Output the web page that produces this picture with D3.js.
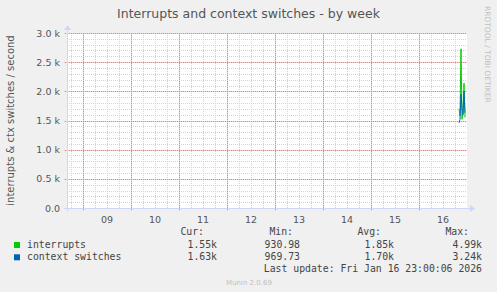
<!DOCTYPE html>
<html>
<head>
<meta charset="utf-8">
<script src="https://cdn.jsdelivr.net/npm/d3@7"></script>
<style>
  html, body { margin: 0; padding: 0; background: #f0f0f0; }
  svg { display: block; }
  text { font-family: "DejaVu Sans", sans-serif; }
  .mono { font-family: "DejaVu Sans Mono", monospace; }
  rect.grid { shape-rendering: crispEdges; }
</style>
</head>
<body>
<div id="chart"></div>
<script>
// time axis (UTC), one label per day
const dayLabels = ["09", "10", "11", "12", "13", "14", "15", "16"];
const yTickValues = [0, 500, 1000, 1500, 2000, 2500, 3000];

// samples only exist for the last few hours of Jan 16
const sampleHours = [20, 20.5, 21, 21.5, 22, 22.5, 23];
const interrupts = [1700, 1580, 2730, 1520, 1650, 2140, 1550];
const contextSwitches = [1460, 1520, 1950, 1700, 1600, 2000, 1630];

const seriesNames = ["interrupts", "context switches"];
const seriesColors = ["#00cc00", "#0066b3"];
const statsCur = ["1.55k", "1.63k"];
const statsMin = ["930.98", "969.73"];
const statsAvg = ["1.85k", "1.70k"];
const statsMax = ["4.99k", "3.24k"];

const width = 497, height = 292;
const margin = { top: 33, right: 30, bottom: 84, left: 67 };
const innerW = width - margin.left - margin.right;   // 400
const innerH = height - margin.top - margin.bottom;  // 175

const svg = d3.select("#chart").append("svg")
  .attr("width", width)
  .attr("height", height);

// dotted grid patterns (1px dot, 1px gap)
const defs = svg.append("defs");
function dotPattern(id, color, gapColor, horizontal) {
  const p = defs.append("pattern").attr("id", id)
    .attr("patternUnits", "userSpaceOnUse")
    .attr("width", horizontal ? 2 : 1).attr("height", horizontal ? 1 : 2);
  if (gapColor) {
    p.append("rect").attr("width", horizontal ? 2 : 1).attr("height", horizontal ? 1 : 2).attr("fill", gapColor);
  }
  p.append("rect").attr("width", 1).attr("height", 1).attr("fill", color);
}
dotPattern("minorH", "#d2d2d2", null, true);
dotPattern("minorV", "#d2d2d2", null, false);
dotPattern("majorH", "#ee8080", "#f8cccc", true);
dotPattern("majorV", "#ee8080", "#f8cccc", false);

svg.append("rect").attr("width", width).attr("height", height).attr("fill", "#f0f0f0");

const xScale = d3.scaleUtc()
  .domain([new Date(Date.UTC(2026, 0, 8, 16)), new Date(Date.UTC(2026, 0, 17, 0))])
  .range([0, innerW]);
const yScale = d3.scaleLinear().domain([0, 3000]).range([innerH, 0]);

const chart = svg.append("g").attr("transform", `translate(${margin.left},${margin.top})`);

chart.append("rect").attr("width", innerW).attr("height", innerH).attr("fill", "#ffffff");

// minor grid: every 6 hours, every 100
const minorX = d3.utcHour.every(6).range(...xScale.domain()).filter(d => d.getUTCHours() !== 0);
chart.append("g").selectAll("rect").data(minorX).join("rect")
  .attr("class", "grid")
  .attr("x", d => Math.round(xScale(d))).attr("y", 0)
  .attr("width", 1).attr("height", innerH)
  .attr("fill", "url(#minorV)");

const minorY = d3.range(100, 3001, 100).filter(v => v % 500 !== 0);
chart.append("g").selectAll("rect").data(minorY).join("rect")
  .attr("class", "grid")
  .attr("x", 0).attr("y", d => Math.round(yScale(d)))
  .attr("width", innerW).attr("height", 1)
  .attr("fill", "url(#minorH)");

// major grid: days, every 500
const days = d3.utcDay.range(...xScale.domain());
chart.append("g").selectAll("rect").data(days).join("rect")
  .attr("class", "grid")
  .attr("x", d => Math.round(xScale(d))).attr("y", 0)
  .attr("width", 1).attr("height", innerH + 3)
  .attr("fill", "url(#majorV)");

chart.append("g").selectAll("rect").data(yTickValues.filter(v => v > 0)).join("rect")
  .attr("class", "grid")
  .attr("x", -3).attr("y", d => Math.round(yScale(d)))
  .attr("width", innerW + 3).attr("height", 1)
  .attr("fill", "url(#majorH)");

// axes lines with arrows
const axisColor = "#cfd6f8";
chart.append("rect").attr("class", "grid")
  .attr("x", -3).attr("y", innerH).attr("width", innerW + 6).attr("height", 1)
  .attr("fill", axisColor);
chart.append("path")
  .attr("d", `M${innerW + 3},${innerH - 3}L${innerW + 8},${innerH + 0.5}L${innerW + 3},${innerH + 4}Z`)
  .attr("fill", axisColor);
chart.append("rect").attr("class", "grid")
  .attr("x", 0).attr("y", -3).attr("width", 1).attr("height", innerH + 6)
  .attr("fill", axisColor);
chart.append("path")
  .attr("d", `M-3,-3L0.5,-8L4,-3Z`)
  .attr("fill", axisColor);

// y tick labels
chart.selectAll(".ytick").data(yTickValues).join("text")
  .attr("class", "ytick")
  .attr("x", -7).attr("y", d => yScale(d) + 3.5)
  .attr("text-anchor", "end")
  .attr("font-size", "9.5px").attr("fill", "#555")
  .text(d => d === 0 ? "0.0" : d3.format(".1f")(d / 1000) + " k");

// x tick labels at noon of each day
chart.selectAll(".xtick").data(dayLabels).join("text")
  .attr("class", "xtick")
  .attr("x", d => xScale(new Date(Date.UTC(2026, 0, +d, 12))))
  .attr("y", innerH + 15)
  .attr("text-anchor", "middle")
  .attr("font-size", "9.5px").attr("fill", "#555")
  .text(d => d);

// series lines
const line = d3.line()
  .x(d => xScale(new Date(Date.UTC(2026, 0, 16) + d[0] * 3600e3)))
  .y(d => yScale(d[1]));
[interrupts, contextSwitches].forEach((vals, i) => {
  chart.append("path")
    .datum(sampleHours.map((h, j) => [h, vals[j]]))
    .attr("d", line)
    .attr("fill", "none")
    .attr("stroke", seriesColors[i])
    .attr("stroke-width", 1);
});

// title
svg.append("text")
  .attr("x", width / 2).attr("y", 18)
  .attr("text-anchor", "middle")
  .attr("font-size", "12.5px").attr("fill", "#555")
  .text("Interrupts and context switches - by week");

// y axis label
svg.append("text")
  .attr("transform", `translate(14,${margin.top + innerH / 2}) rotate(-90)`)
  .attr("text-anchor", "middle")
  .attr("font-size", "10px").attr("fill", "#555")
  .text("interrupts & ctx switches / second");

// rrdtool credit
svg.append("text")
  .attr("transform", `translate(485,6) rotate(90)`)
  .attr("font-size", "7.5px").attr("fill", "#c0c0c0")
  .text("RRDTOOL / TOBI OETIKER");

// legend
const mono = { size: "9.8px", color: "#444" };
const headers = [["Cur:", 204], ["Min:", 293], ["Avg:", 381], ["Max:", 469]];
svg.selectAll(".hdr").data(headers).join("text")
  .attr("class", "mono hdr")
  .attr("x", d => d[1]).attr("y", 235)
  .attr("text-anchor", "end")
  .attr("font-size", mono.size).attr("fill", mono.color)
  .text(d => d[0]);

const columns = [[statsCur, 217], [statsMin, 300], [statsAvg, 394], [statsMax, 482]];
seriesNames.forEach((name, i) => {
  const y = 248 + i * 12.3;
  svg.append("rect")
    .attr("x", 14).attr("y", y - 6).attr("width", 6).attr("height", 6)
    .attr("fill", seriesColors[i]);
  svg.append("text").attr("class", "mono")
    .attr("x", 27).attr("y", y)
    .attr("font-size", mono.size).attr("fill", mono.color)
    .text(name);
  columns.forEach(([vals, xr]) => {
    svg.append("text").attr("class", "mono")
      .attr("x", xr).attr("y", y)
      .attr("text-anchor", "end")
      .attr("font-size", mono.size).attr("fill", mono.color)
      .text(vals[i]);
  });
});

svg.append("text").attr("class", "mono")
  .attr("x", 482).attr("y", 272)
  .attr("text-anchor", "end")
  .attr("font-size", mono.size).attr("fill", mono.color)
  .text("Last update: Fri Jan 16 23:00:06 2026");

svg.append("text")
  .attr("x", 249).attr("y", 285)
  .attr("text-anchor", "middle")
  .attr("font-size", "7px").attr("fill", "#c0c0c0")
  .text("Munin 2.0.69");
</script>
</body>
</html>
